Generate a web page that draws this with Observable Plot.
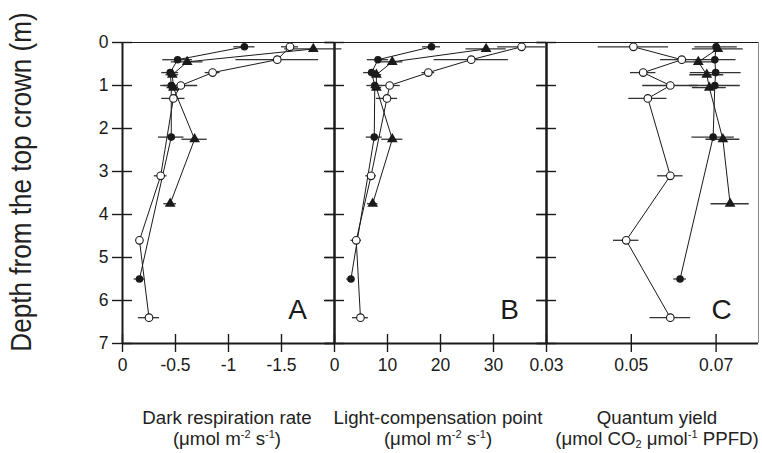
<!DOCTYPE html>
<html><head><meta charset="utf-8">
<script src="https://cdn.jsdelivr.net/npm/d3@7"></script>
<script src="https://cdn.jsdelivr.net/npm/@observablehq/plot@0.6"></script>
<style>
body{margin:0;background:#fff;font-family:"Liberation Sans",Arial,sans-serif;}
#chart{position:relative;width:762px;height:453px;overflow:hidden;background:#fff;}
#chart svg{position:absolute;top:0;}
.lab{position:absolute;text-align:center;font-size:18.7px;color:#222;line-height:21px;white-space:nowrap;transform:translateX(-50%);}
.lab sup{font-size:11px;vertical-align:7px;line-height:0;}
.lab sub{font-size:11px;vertical-align:-3px;line-height:0;}
#ytitle{position:absolute;left:21px;top:182px;font-size:30px;color:#222;white-space:nowrap;transform:translate(-50%,-50%) rotate(-90deg) scaleX(0.87);}
</style></head>
<body>
<div id="chart">
  <div id="ytitle">Depth from the top crown (m)</div>
  <div class="lab" style="left:227px;top:407px">Dark respiration rate<br>(μmol m<sup>-2</sup> s<sup>-1</sup>)</div>
  <div class="lab" style="left:438px;top:407px">Light-compensation point<br>(μmol m<sup>-2</sup> s<sup>-1</sup>)</div>
  <div class="lab" style="left:657px;top:407px">Quantum yield<br>(μmol CO<sub>2</sub> μmol<sup>-1</sup> PPFD)</div>
</div>
<script>
// Depths (m) of each series
const depthFilled = [0.1, 0.4, 0.7, 1.0, 2.2, 5.5];
const depthOpen   = [0.1, 0.4, 0.7, 1.0, 1.3, 3.1, 4.6, 6.4];
const depthTri    = [0.15, 0.45, 0.75, 1.05, 2.25, 3.75];

// Panel A: dark respiration rate
const aFilled = [-1.15, -0.52, -0.45, -0.46, -0.46, -0.16];
const aFilledErr = [0.10, 0.14, 0.08, 0.10, 0.12, 0.05];
const aOpen = [-1.58, -1.46, -0.85, -0.55, -0.48, -0.36, -0.16, -0.25];
const aOpenErr = [0.08, 0.39, 0.07, 0.16, 0.11, 0.06, 0.03, 0.10];
const aTri = [-1.80, -0.61, -0.47, -0.48, -0.68, -0.45];
const aTriErr = [0.27, 0.15, 0.06, 0.06, 0.12, 0.06];

// Panel B: light-compensation point
const bFilled = [18.3, 8.2, 7.0, 7.6, 7.5, 3.1];
const bFilledErr = [1.7, 2.0, 1.5, 1.5, 1.5, 0.8];
const bOpen = [35.3, 25.8, 17.7, 10.4, 9.9, 6.9, 4.1, 4.9];
const bOpenErr = [4.5, 7.0, 1.2, 2.0, 2.0, 1.0, 1.0, 1.5];
const bTri = [28.6, 10.9, 7.9, 7.9, 10.9, 7.2];
const bTriErr = [3.8, 2.0, 1.0, 1.0, 2.0, 1.0];

// Panel C: quantum yield
const cFilled = [0.0700, 0.0697, 0.0699, 0.0697, 0.0693, 0.0615];
const cFilledErr = [0.005, 0.005, 0.006, 0.006, 0.005, 0.0015];
const cOpen = [0.0505, 0.0619, 0.0528, 0.0592, 0.0539, 0.0592, 0.0488, 0.0592];
const cOpenErr = [0.0083, 0.005, 0.003, 0.0065, 0.0045, 0.003, 0.003, 0.0048];
const cTri = [0.0704, 0.0658, 0.0678, 0.0684, 0.0716, 0.0733];
const cTriErr = [0.006, 0.004, 0.004, 0.004, 0.004, 0.0045];

// Axes
const yTicks = [0, 1, 2, 3, 4, 5, 6, 7];
const aTicks = [0, -0.5, -1, -1.5];
const aTickLabels = ["0", "-0.5", "-1", "-1.5"];
const bTicks = [0, 10, 20, 30];
const bTickLabels = ["0", "10", "20", "30"];
const cTicks = [0.03, 0.05, 0.07];
const cTickLabels = ["0.03", "0.05", "0.07"];

const PW = 212, ML = 40, MR = 10, MT = 42, MB = 110, H = 453;
const PH = H - MT - MB;
const ink = "#1a1a1a";

function rows(depths, v, e) { return depths.map((d, i) => ({depth: d, value: v[i], err: e[i]})); }

function panel(o) {
  const filled = rows(depthFilled, o.filled, o.filledErr);
  const open = rows(depthOpen, o.open, o.openErr);
  const tri = rows(depthTri, o.tri, o.triErr);
  const all = [...filled, ...open, ...tri];
  const marks = [
    Plot.ruleY([0], {stroke: ink, strokeWidth: 1}),
    Plot.ruleY([7], {stroke: ink, strokeWidth: 2}),
    Plot.ruleX([o.domain[0]], {stroke: ink, strokeWidth: 2}),
    o.last ? Plot.ruleX([o.domain[1]], {stroke: "#888", strokeWidth: 1})
           : Plot.ruleX([o.domain[1]], {stroke: ink, strokeWidth: 2}),
    Plot.tickY(yTicks, {y: d => d, insetRight: PW - 20, dx: -10, stroke: ink, strokeWidth: 1.4}),
    Plot.tickX(o.ticks, {x: d => d, insetTop: PH - 18, dy: 9, stroke: ink, strokeWidth: 1.4}),
    Plot.text(o.ticks.map((t, i) => ({t, label: o.labels[i]})), {x: "t", text: "label", frameAnchor: "bottom", dy: 27.5, fill: ink}),
    Plot.ruleY(all, {y: "depth", x1: d => d.value - d.err, x2: d => d.value + d.err, stroke: "#333", strokeWidth: 1.3}),
    Plot.line(filled, {x: "value", y: "depth", stroke: ink, strokeWidth: 1}),
    Plot.line(open, {x: "value", y: "depth", stroke: ink, strokeWidth: 1}),
    Plot.line(tri, {x: "value", y: "depth", stroke: ink, strokeWidth: 1}),
    Plot.dot(filled, {x: "value", y: "depth", r: 3.8, fill: ink, stroke: "none"}),
    Plot.dot(open, {x: "value", y: "depth", r: 3.8, fill: "white", stroke: ink, strokeWidth: 1.1}),
    Plot.dot(tri, {x: "value", y: "depth", symbol: "triangle", r: 4, fill: ink, stroke: "none"}),
    Plot.text([o.letter], {text: d => d, frameAnchor: "bottom-right", dx: -37, dy: -25, fontSize: 28, textAnchor: "middle", fill: ink})
  ];
  if (!o.last) marks.splice(5, 0, Plot.tickY(yTicks, {y: d => d, insetLeft: PW - 9, stroke: ink, strokeWidth: 1.4}));
  if (o.yLabels) marks.push(Plot.text(yTicks, {y: d => d, text: d => String(d), frameAnchor: "left", textAnchor: "end", dx: -14, fill: ink}));
  const svg = Plot.plot({
    width: PW + ML + MR, height: H,
    marginLeft: ML, marginRight: MR, marginTop: MT, marginBottom: MB,
    style: {background: "transparent", overflow: "visible", fontFamily: "'Liberation Sans', Arial, sans-serif", fontSize: "17.5px"},
    x: {domain: o.domain, axis: null},
    y: {domain: [0, 7], reverse: true, axis: null},
    marks
  });
  svg.style.left = (o.left - ML) + "px";
  document.getElementById("chart").appendChild(svg);
}

panel({domain: [0, -2], ticks: aTicks, labels: aTickLabels, filled: aFilled, filledErr: aFilledErr, open: aOpen, openErr: aOpenErr, tri: aTri, triErr: aTriErr, letter: "A", left: 122, yLabels: true});
panel({domain: [0, 40], ticks: bTicks, labels: bTickLabels, filled: bFilled, filledErr: bFilledErr, open: bOpen, openErr: bOpenErr, tri: bTri, triErr: bTriErr, letter: "B", left: 334});
panel({domain: [0.03, 0.08], ticks: cTicks, labels: cTickLabels, filled: cFilled, filledErr: cFilledErr, open: cOpen, openErr: cOpenErr, tri: cTri, triErr: cTriErr, letter: "C", left: 546, last: true});
</script>
</body></html>
